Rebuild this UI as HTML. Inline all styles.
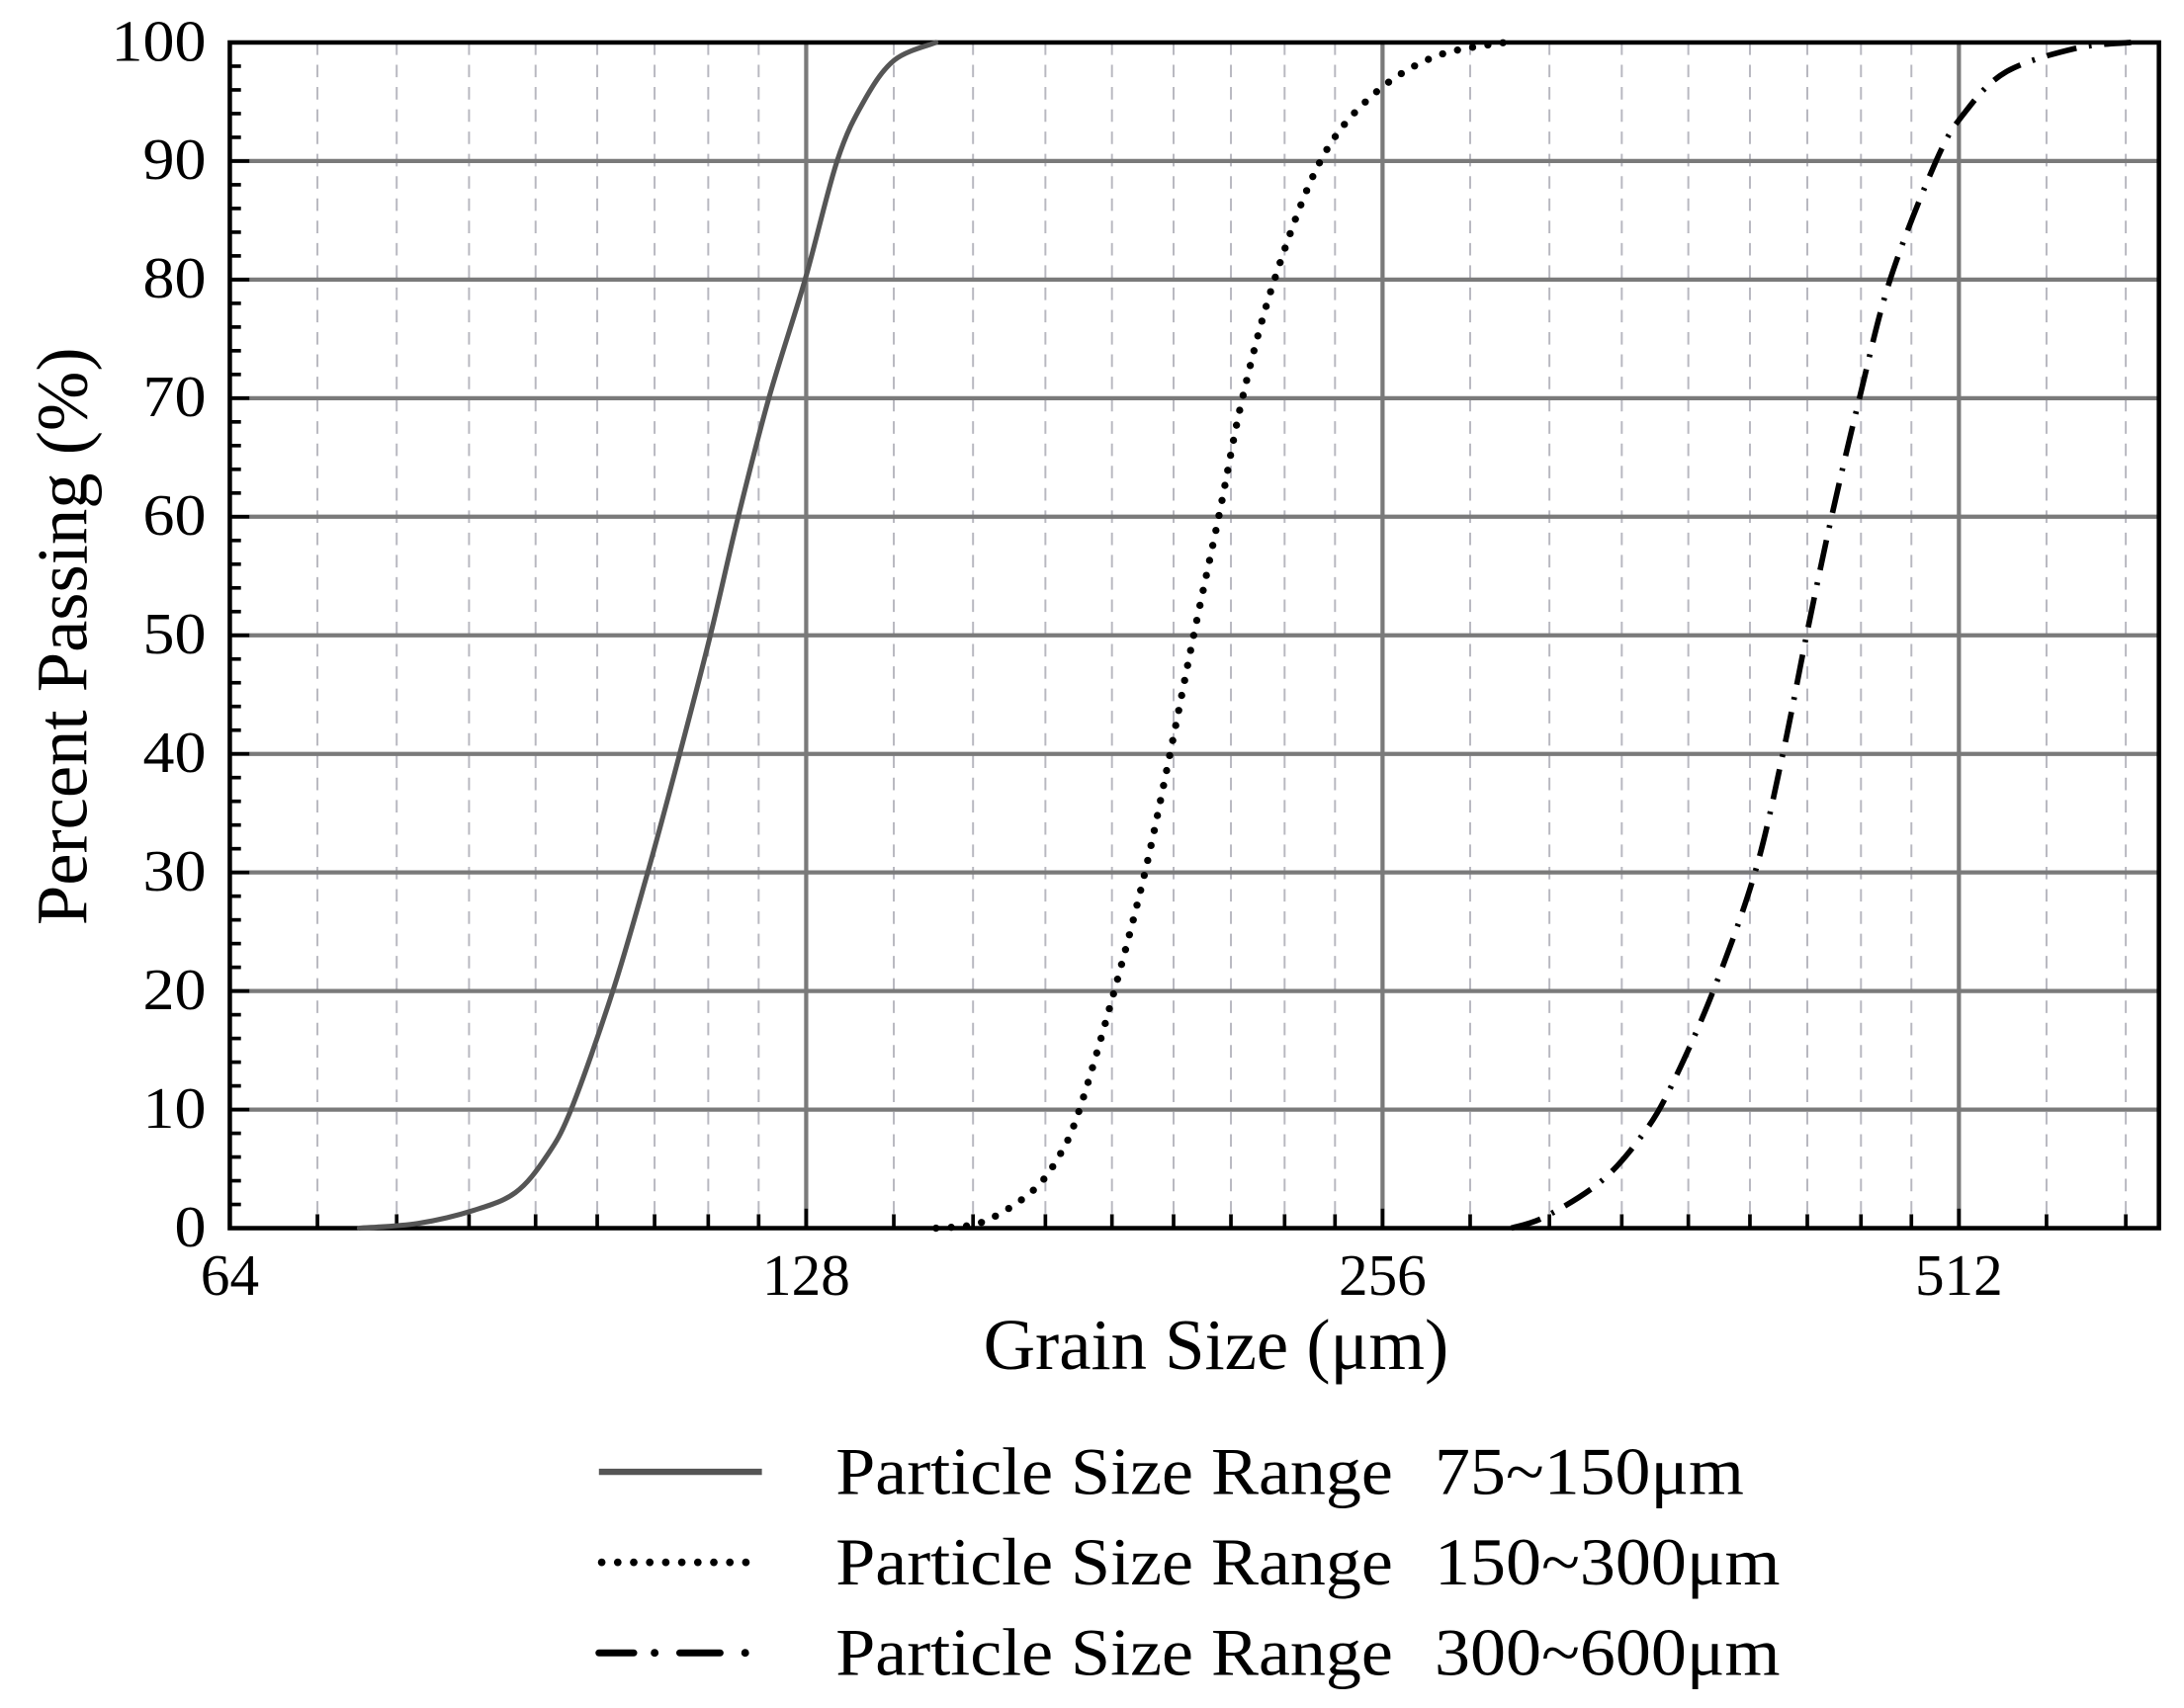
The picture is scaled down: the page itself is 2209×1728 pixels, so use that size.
<!DOCTYPE html>
<html><head><meta charset="utf-8"><style>
html,body{margin:0;padding:0;background:#fff;}
svg{display:block;}
text{font-family:"Liberation Serif",serif;fill:#000;}
</style></head><body>
<svg width="2209" height="1728" viewBox="0 0 1568 1226.6" preserveAspectRatio="none" xmlns="http://www.w3.org/2000/svg">
<rect width="1568" height="1227" fill="#fff"/>
<g id="minor" stroke="#b8b8c0" stroke-width="1.4" stroke-dasharray="9,7"></g>
<g id="major" stroke="#7a7a7a" stroke-width="3"></g>
<g id="ticks" stroke="#000" stroke-width="2.6"></g>
<rect x="165" y="30.5" width="1385" height="851.5" fill="none" stroke="#000" stroke-width="3.2"/>
<g id="labels" font-size="42"></g>
<text x="873" y="983" font-size="52" text-anchor="middle" textLength="334" lengthAdjust="spacingAndGlyphs">Grain Size (μm)</text>
<text transform="translate(62,457) rotate(-90)" font-size="52" text-anchor="middle" textLength="415" lengthAdjust="spacingAndGlyphs">Percent Passing (%)</text>
<g id="curves" fill="none" stroke-linejoin="round" stroke-linecap="round"></g>
<line x1="430" y1="1057" x2="547" y2="1057" stroke="#555" stroke-width="4.5"/>
<line x1="432" y1="1122" x2="545" y2="1122" stroke="#000" stroke-width="5.5" stroke-dasharray="0,11.5" stroke-linecap="round"/>
<path d="M430 1187h25M488 1187h29" stroke="#000" stroke-width="5" stroke-linecap="round"/>
<circle cx="470" cy="1187" r="2.8"/><circle cx="535" cy="1187" r="2.8"/>
<text x="600" y="1073" font-size="48" textLength="400" lengthAdjust="spacingAndGlyphs">Particle Size Range</text>
<text x="1030" y="1073" font-size="48" textLength="222" lengthAdjust="spacingAndGlyphs">75~150μm</text>
<text x="600" y="1138" font-size="48" textLength="400" lengthAdjust="spacingAndGlyphs">Particle Size Range</text>
<text x="1030" y="1138" font-size="48" textLength="248" lengthAdjust="spacingAndGlyphs">150~300μm</text>
<text x="600" y="1203" font-size="48" textLength="400" lengthAdjust="spacingAndGlyphs">Particle Size Range</text>
<text x="1030" y="1203" font-size="48" textLength="248" lengthAdjust="spacingAndGlyphs">300~600μm</text>
</svg>
<script>
const NS="http://www.w3.org/2000/svg";
const L=165,R=1550,T=30.5,B=882,OCT=413.8;
const X=v=>L+OCT*Math.log2(v/64), Y=p=>B-(B-T)*p/100;
function el(g,tag,a,txt){const e=document.createElementNS(NS,tag);for(const k in a)e.setAttribute(k,a[k]);if(txt!==undefined)e.textContent=txt;document.getElementById(g).appendChild(e);return e;}
for(const base of [64,128,256,512]){for(let k=1;k<=8;k++){const x=X(base*(1+k/9));if(x>=R)break;
 el("minor","line",{x1:x,y1:T,x2:x,y2:B});el("ticks","line",{x1:x,y1:B,x2:x,y2:B-10});}}
for(let p=10;p<100;p+=10)el("major","line",{x1:L,y1:Y(p),x2:R,y2:Y(p)});
for(const v of [128,256,512])el("major","line",{x1:X(v),y1:T,x2:X(v),y2:B});
for(let p=2;p<100;p+=2){const y=Y(p);el("ticks","line",{x1:L,y1:y,x2:L+(p%10?8:14),y2:y});}
for(const v of [128,256,512])el("ticks","line",{x1:X(v),y1:B,x2:X(v),y2:B-14});
for(let p=0;p<=100;p+=10){const s=String(p);el("labels","text",{x:148,y:Y(p)+13,"text-anchor":"end",textLength:s.length*22.7,lengthAdjust:"spacingAndGlyphs"},s);}
for(const v of [64,128,256,512]){const s=String(v);el("labels","text",{x:X(v),y:930,"text-anchor":"middle",textLength:s.length*21,lengthAdjust:"spacingAndGlyphs"},s);}
function cr(pts){const P=pts.map(([x,p])=>[x,Y(p)]);let d="M"+P[0].join(" ");
 for(let i=0;i<P.length-1;i++){const p0=P[i-1]||P[i],p1=P[i],p2=P[i+1],p3=P[i+2]||P[i+1];
 d+=` C${p1[0]+(p2[0]-p0[0])/6} ${p1[1]+(p2[1]-p0[1])/6} ${p2[0]-(p3[0]-p1[0])/6} ${p2[1]-(p3[1]-p1[1])/6} ${p2[0]} ${p2[1]}`;}return d;}
const s1=[[258,0],[300,0.4],[340,1.5],[370,3],[392,6],[410,10],[440,20],[465,30],[488,40],[510,50],[530,60],[552,70],[578,80],[601,90],[620,95],[642,98.5],[672,100]];
const s2=[[672,0],[705,0.5],[740,3],[760,6],[775,10],[800,20],[822,30],[840,40],[857,50],[875,60],[892,70],[915,80],[948,90],[985,95.5],[1030,98.8],[1080,100]];
const s3=[[1085,0],[1110,1],[1150,4],[1180,8],[1200,12],[1230,20],[1260,30],[1280,40],[1297,50],[1315,60],[1335,70],[1357,80],[1390,90],[1410,94],[1440,97.5],[1490,99.5],[1530,100]];
el("curves","path",{d:cr(s1),stroke:"#555","stroke-width":3.6});
el("curves","path",{d:cr(s2),stroke:"#000","stroke-width":5.2,"stroke-dasharray":"0,11","stroke-linecap":"round"});
el("curves","path",{d:cr(s3),stroke:"#000","stroke-width":4,"stroke-dasharray":"22,9,2,9","stroke-linecap":"butt"});
</script>
</body></html>
